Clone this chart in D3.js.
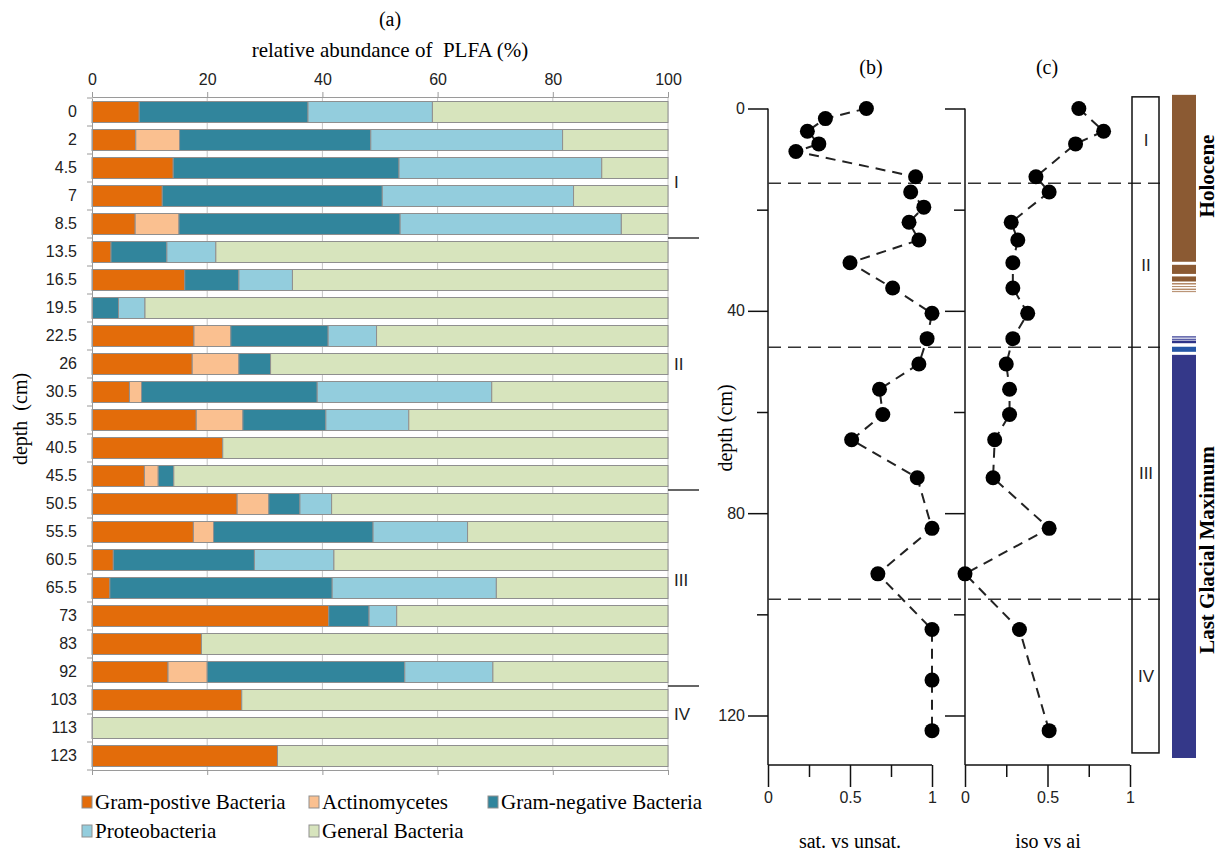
<!DOCTYPE html>
<head>
  <meta charset="utf-8">
  <title>PLFA profile</title>
</head>
<style>
  body { margin: 0; background: #fff; }
  .serif { font-family: "Liberation Serif", "Times New Roman", serif; white-space: pre; }
  .sans { font-family: "Liberation Sans", Arial, sans-serif; }
  .bars rect { stroke: #8f8f8f; stroke-width: 1; }
  .grid line { stroke: #c4c4c4; }
</style>
<svg width="1221" height="853"></svg>
<script src="https://d3js.org/d3.v7.min.js"></script>
<script>
  // depth categories (cm)
  var depths = ["0", "2", "4.5", "7", "8.5", "13.5", "16.5", "19.5", "22.5", "26", "30.5", "35.5",
    "40.5", "45.5", "50.5", "55.5", "60.5", "65.5", "73", "83", "92", "103", "113", "123"];

  // relative abundance (%) per group
  var gramPos = [8.2, 7.6, 14.1, 12.2, 7.5, 3.3, 16.1, 0, 17.7, 17.4, 6.5, 18.1, 22.7, 9.1, 25.2, 17.6, 3.7, 3.1, 41.1, 19.0, 13.2, 26.0, 0, 32.2];
  var actino = [0, 7.6, 0, 0, 7.6, 0, 0, 0, 6.4, 8.1, 2.1, 8.1, 0, 2.4, 5.5, 3.5, 0, 0, 0, 0, 6.8, 0, 0, 0];
  var gramNeg = [29.3, 33.2, 39.2, 38.2, 38.4, 9.7, 9.4, 4.6, 16.9, 5.5, 30.5, 14.4, 0, 2.7, 5.4, 27.7, 24.5, 38.6, 7.0, 0, 34.3, 0, 0, 0];
  var proteo = [21.6, 33.3, 35.2, 33.2, 38.4, 8.5, 9.3, 4.6, 8.4, 0, 30.3, 14.4, 0, 0, 5.5, 16.4, 13.8, 28.5, 4.8, 0, 15.3, 0, 0, 0];
  var general = [40.9, 18.3, 11.5, 16.4, 8.1, 78.5, 65.2, 90.8, 50.6, 69.0, 30.6, 45.0, 77.3, 85.8, 58.4, 34.8, 58.0, 29.8, 47.1, 81.0, 30.4, 74.0, 100, 67.8];

  var groups = ["Gram-postive Bacteria", "Actinomycetes", "Gram-negative Bacteria", "Proteobacteria", "General Bacteria"];
  var colors = ["#e36c0a", "#fac090", "#31859c", "#93cddd", "#d7e4bd"];

  // (b) saturated vs unsaturated, one value per depth
  var satUnsat = [0.60, 0.35, 0.24, 0.31, 0.17, 0.90, 0.87, 0.95, 0.86, 0.92, 0.50, 0.76,
    1.0, 0.97, 0.92, 0.68, 0.70, 0.51, 0.91, 1.0, 0.67, 1.0, 1.0, 1.0];

  // (c) iso vs anteiso
  var isoDepth = [0, 4.5, 7, 13.5, 16.5, 22.5, 26, 30.5, 35.5, 40.5, 45.5, 50.5, 55.5, 60.5, 65.5, 73, 83, 92, 103, 123];
  var isoAi = [0.69, 0.84, 0.67, 0.43, 0.51, 0.28, 0.32, 0.29, 0.29, 0.38, 0.29, 0.25, 0.27, 0.27, 0.18, 0.17, 0.51, 0.0, 0.33, 0.51];

  // zones
  var zoneBounds = [14.8, 47.2, 97];
  var zoneNames = ["I", "II", "III", "IV"];
  var barZoneRows = [5, 14, 21]; // first row of each new zone in (a)
  var barZoneLabelRows = [3, 9.5, 17.2, 22]; // where the zone names sit in (a), in rows

  // climate column: [top depth, bottom depth, colour]
  var eraBlocks = [
    [-2.7, 30.3, "#8b5a33"], [30.9, 32.7, "#8b5a33"], [33.2, 34.2, "#8b5a33"],
    [34.5, 34.8, "#b48a68"], [35.1, 35.3, "#b48a68"], [35.6, 35.9, "#b48a68"], [36.1, 36.3, "#b48a68"],
    [45.0, 45.3, "#5a5fa8"], [45.5, 45.8, "#5a5fa8"], [45.9, 46.4, "#2e3488"],
    [47.1, 48.1, "#2556a6"], [48.7, 128.4, "#343889"]
  ];

  var svg = d3.select("svg");

  // ---------- (a) stacked bars ----------
  var x = d3.scaleLinear().domain([0, 100]).range([92, 668]);
  var y = d3.scaleBand().domain(depths).range([98, 770]).paddingInner(0.25).paddingOuter(0.125);

  var table = depths.map(function (d, i) {
    return { depth: d, g0: gramPos[i], g1: actino[i], g2: gramNeg[i], g3: proteo[i], g4: general[i] };
  });
  var stack = d3.stack().keys(["g0", "g1", "g2", "g3", "g4"])(table);

  var grid = svg.append("g").attr("class", "grid");
  grid.selectAll("line").data([20, 40, 60, 80, 100]).enter().append("line")
    .attr("x1", x).attr("x2", x).attr("y1", 97).attr("y2", 770);

  var bars = svg.append("g").attr("class", "bars");
  bars.selectAll("g").data(stack).enter().append("g")
    .attr("fill", function (d, i) { return colors[i]; })
    .selectAll("rect")
    .data(function (d) { return d.filter(function (s) { return s[1] - s[0] > 0; }); })
    .enter().append("rect")
    .attr("x", function (d) { return x(d[0]); })
    .attr("width", function (d) { return x(d[1]) - x(d[0]); })
    .attr("y", function (d) { return y(d.data.depth); })
    .attr("height", y.bandwidth());

  var topAxis = svg.append("g").attr("class", "sans")
    .attr("transform", "translate(0,97)")
    .call(d3.axisTop(x).tickValues([0, 20, 40, 60, 80, 100]).tickSize(5).tickPadding(7));
  topAxis.select(".domain").attr("stroke", "#9a9a9a");
  topAxis.selectAll(".tick line").attr("stroke", "#9a9a9a");
  topAxis.selectAll("text").attr("font-size", 16).attr("fill", "#222");

  var botAxis = svg.append("g")
    .attr("transform", "translate(0,770)")
    .call(d3.axisBottom(x).tickValues([0, 20, 40, 60, 80, 100]).tickSize(5).tickFormat(""));
  botAxis.select(".domain").attr("stroke", "#9a9a9a");
  botAxis.selectAll(".tick line").attr("stroke", "#9a9a9a");

  var leftAxis = svg.append("g").attr("class", "sans")
    .attr("transform", "translate(92,0)")
    .call(d3.axisLeft(y).tickSize(0).tickPadding(15));
  leftAxis.select(".domain").attr("stroke", "#9a9a9a");
  leftAxis.selectAll("text").attr("font-size", 16).attr("fill", "#222");
  var step = y.step();
  leftAxis.selectAll(".bound").data(d3.range(depths.length + 1)).enter().append("line")
    .attr("x1", -5).attr("x2", 0)
    .attr("y1", function (i) { return y.range()[0] + i * step; })
    .attr("y2", function (i) { return y.range()[0] + i * step; })
    .attr("stroke", "#9a9a9a");

  // zone separators and labels for (a)
  svg.selectAll(".zsep").data(barZoneRows).enter().append("line")
    .attr("x1", 668).attr("x2", 699)
    .attr("y1", function (r) { return y.range()[0] + r * step; })
    .attr("y2", function (r) { return y.range()[0] + r * step; })
    .attr("stroke", "#333").attr("stroke-width", 1.5);
  svg.selectAll(".azl").data(zoneNames).enter().append("text")
    .attr("class", "sans").attr("font-size", 17).attr("fill", "#222")
    .attr("x", 674).attr("y", function (d, i) { return y.range()[0] + barZoneLabelRows[i] * step; })
    .attr("dy", "0.35em").text(function (d) { return d; });

  svg.append("text").attr("class", "serif").attr("font-size", 20).attr("text-anchor", "middle")
    .attr("x", 390).attr("y", 26).text("(a)");
  svg.append("text").attr("class", "serif").attr("font-size", 21).attr("text-anchor", "middle")
    .attr("x", 390).attr("y", 57).text("relative abundance of  PLFA (%)");
  svg.append("text").attr("class", "serif").attr("font-size", 20).attr("text-anchor", "middle")
    .attr("transform", "translate(27,419) rotate(-90)").text("depth  (cm)");

  // legend
  var legPos = [[82, 802], [309, 802], [488, 802], [82, 831], [309, 831]];
  var leg = svg.append("g").selectAll("g").data(groups).enter().append("g")
    .attr("transform", function (d, i) { return "translate(" + legPos[i][0] + "," + legPos[i][1] + ")"; });
  leg.append("rect").attr("x", 0).attr("y", -6).attr("width", 10).attr("height", 12)
    .attr("fill", function (d, i) { return colors[i]; }).attr("stroke", "#8f8f8f");
  leg.append("text").attr("class", "serif").attr("font-size", 21).attr("x", 13).attr("dy", "0.33em")
    .text(function (d) { return d; });

  // ---------- (b) and (c) ----------
  var yd = d3.scaleLinear().domain([0, 120]).range([108.5, 715.5]);
  var xb = d3.scaleLinear().domain([0, 1]).range([768, 932]);
  var xc = d3.scaleLinear().domain([0, 1]).range([965, 1130]);
  var axisBottomY = 765;

  function depthAxis(left, labels) {
    var g = svg.append("g").attr("class", "sans").attr("transform", "translate(" + left + ",0)");
    g.call(d3.axisLeft(yd).tickValues([0, 40, 80, 120]).tickSize(20).tickPadding(3)
      .tickFormat(labels ? function (d) { return d; } : ""));
    g.select(".domain").remove();
    var m = g.append("g").call(d3.axisLeft(yd).tickValues([20, 60, 100]).tickSize(11).tickFormat(""));
    m.select(".domain").remove();
    g.append("line").attr("x1", 0).attr("x2", 0).attr("y1", yd(0)).attr("y2", axisBottomY);
    g.selectAll("line").attr("stroke", "#111").attr("stroke-width", 1.5);
    g.selectAll("text").attr("font-size", 16).attr("fill", "#222");
  }

  function valueAxis(xs) {
    var g = svg.append("g").attr("class", "sans").attr("transform", "translate(0," + axisBottomY + ")");
    g.call(d3.axisBottom(xs).tickValues([0, 0.5, 1]).tickSize(22).tickPadding(5)
      .tickFormat(function (d) { return d; }));
    g.append("g").call(d3.axisBottom(xs).tickValues([0.25, 0.75]).tickSize(12).tickFormat(""))
      .select(".domain").remove();
    g.selectAll(".domain").attr("d", "M" + xs(0) + ",0H" + xs(1));
    g.selectAll("line, path").attr("stroke", "#111").attr("stroke-width", 1.5);
    g.selectAll("text").attr("font-size", 16).attr("fill", "#222");
  }

  depthAxis(xb(0), true);
  depthAxis(xc(0), false);
  valueAxis(xb);
  valueAxis(xc);

  // zone dashed lines
  svg.selectAll(".zline").data(zoneBounds).enter().append("line")
    .attr("x1", xb(0)).attr("x2", 1160)
    .attr("y1", yd).attr("y2", yd)
    .attr("stroke", "#333").attr("stroke-width", 1.5).attr("stroke-dasharray", "13,7");

  // zone column
  svg.append("rect").attr("x", 1132).attr("y", yd(-2.3)).attr("width", 27)
    .attr("height", yd(127.4) - yd(-2.3))
    .attr("fill", "none").attr("stroke", "#111").attr("stroke-width", 1.5);
  var zEdges = [-2.3].concat(zoneBounds, [127.4]);
  svg.selectAll(".zname").data(zoneNames).enter().append("text")
    .attr("class", "sans").attr("font-size", 17).attr("fill", "#222").attr("text-anchor", "middle")
    .attr("x", 1146).attr("y", function (d, i) { return yd((zEdges[i] + zEdges[i + 1]) / 2); })
    .attr("dy", "0.35em").text(function (d) { return d; });

  // climate column
  svg.selectAll(".era").data(eraBlocks).enter().append("rect")
    .attr("x", 1172).attr("width", 24)
    .attr("y", function (d) { return yd(d[0]); })
    .attr("height", function (d) { return yd(d[1]) - yd(d[0]); })
    .attr("fill", function (d) { return d[2]; });
  svg.append("text").attr("class", "serif").attr("font-size", 21).attr("font-weight", "bold")
    .attr("text-anchor", "middle").attr("transform", "translate(1214,176) rotate(-90)").text("Holocene");
  svg.append("text").attr("class", "serif").attr("font-size", 21).attr("font-weight", "bold")
    .attr("text-anchor", "middle").attr("transform", "translate(1214,550) rotate(-90)").text("Last Glacial Maximum");

  function profile(xs, pts) {
    svg.append("path").datum(pts)
      .attr("fill", "none").attr("stroke", "#222").attr("stroke-width", 2).attr("stroke-dasharray", "10,7")
      .attr("d", d3.line().x(function (p) { return xs(p[0]); }).y(function (p) { return yd(p[1]); }));
    svg.append("g").selectAll("circle").data(pts).enter().append("circle")
      .attr("cx", function (p) { return xs(p[0]); })
      .attr("cy", function (p) { return yd(p[1]); })
      .attr("r", 7.5).attr("fill", "#000");
  }

  profile(xb, satUnsat.map(function (v, i) { return [v, +depths[i]]; }));
  profile(xc, isoAi.map(function (v, i) { return [v, isoDepth[i]]; }));

  svg.append("text").attr("class", "serif").attr("font-size", 20).attr("text-anchor", "middle")
    .attr("x", 871).attr("y", 74).text("(b)");
  svg.append("text").attr("class", "serif").attr("font-size", 20).attr("text-anchor", "middle")
    .attr("x", 1047).attr("y", 74).text("(c)");
  svg.append("text").attr("class", "serif").attr("font-size", 20).attr("text-anchor", "middle")
    .attr("transform", "translate(732,428) rotate(-90)").text("depth (cm)");
  svg.append("text").attr("class", "serif").attr("font-size", 20).attr("text-anchor", "middle")
    .attr("x", 850).attr("y", 848).text("sat. vs unsat.");
  svg.append("text").attr("class", "serif").attr("font-size", 20).attr("text-anchor", "middle")
    .attr("x", 1048).attr("y", 848).text("iso vs ai");
</script>
